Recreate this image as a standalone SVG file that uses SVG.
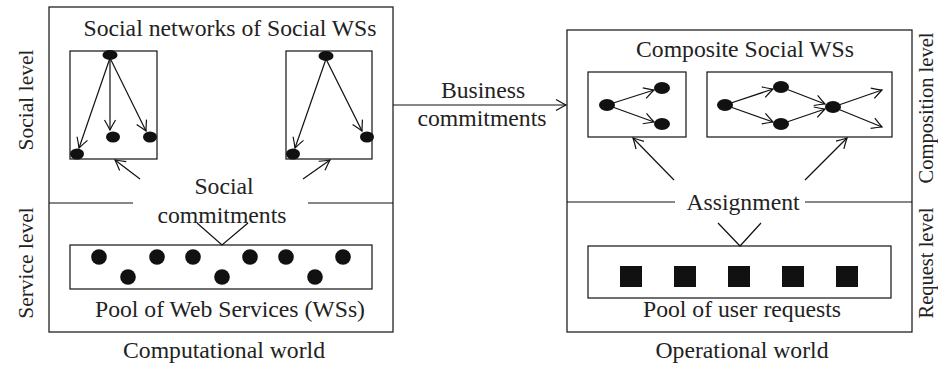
<svg xmlns="http://www.w3.org/2000/svg" width="938" height="367" viewBox="0 0 938 367">
  <defs>
    <style>
      .frame { fill: none; stroke: #222; stroke-width: 1.3; }
      .box { fill: none; stroke: #111; stroke-width: 1.2; }
      .line { fill: none; stroke: #111; stroke-width: 1.2; }
      .arrow { fill: none; stroke: #111; stroke-width: 1.2; marker-end: url(#vee); }
      .dot { fill: #111; }
      .lbl { font-family: "Liberation Serif", "Times New Roman", serif; font-size: 23.7px; fill: #222; text-anchor: middle; }
      .side { font-family: "Liberation Serif", "Times New Roman", serif; font-size: 21.5px; fill: #222; text-anchor: middle; }
      .side2 { font-family: "Liberation Serif", "Times New Roman", serif; font-size: 20.5px; fill: #222; text-anchor: middle; }
    </style>
    <marker id="vee" viewBox="-12 -7 14 14" markerWidth="14" markerHeight="14" refX="0" refY="0" orient="auto" markerUnits="userSpaceOnUse">
      <path d="M -10 -5.5 Q -4 -2 0 0 Q -4 2 -10 5.5" fill="none" stroke="#111" stroke-width="1.2"/>
    </marker>
  </defs>

  <!-- Computational world -->
  <g id="computational-world">
    <rect class="frame" x="49" y="7" width="344" height="325"/>
    <line class="line" x1="49" y1="203" x2="133" y2="203"/>
    <line class="line" x1="308" y1="203" x2="393" y2="203"/>
    <text class="lbl" x="230" y="36">Social networks of Social WSs</text>
    <text class="lbl" x="224" y="194">Social</text>
    <text class="lbl" x="222" y="223">commitments</text>
    <text class="lbl" x="230" y="317">Pool of Web Services (WSs)</text>
    <text class="lbl" x="224" y="358">Computational world</text>
    <text class="side" transform="translate(33,100) rotate(-90)">Social level</text>
    <text class="side" transform="translate(33,263) rotate(-90)">Service level</text>
  </g>

  <g id="social-network-1">
    <rect class="box" x="70" y="51" width="87" height="108"/>
    <ellipse class="dot" cx="110" cy="55" rx="7.5" ry="5"/>
    <ellipse class="dot" cx="113" cy="137" rx="7" ry="5.5"/>
    <ellipse class="dot" cx="150" cy="137" rx="7" ry="5.5"/>
    <ellipse class="dot" cx="77" cy="154" rx="7" ry="5.5"/>
  </g>

  <g id="social-network-2">
    <rect class="box" x="286" y="51" width="86" height="108"/>
    <ellipse class="dot" cx="326" cy="56" rx="7.5" ry="5"/>
    <ellipse class="dot" cx="367" cy="137" rx="7" ry="5.5"/>
    <ellipse class="dot" cx="293" cy="154" rx="7" ry="5.5"/>
  </g>

  <g id="ws-pool">
    <rect class="box" x="70" y="245" width="302" height="44"/>
    <circle class="dot" cx="99" cy="257" r="7.8"/>
    <circle class="dot" cx="157" cy="257" r="7.8"/>
    <circle class="dot" cx="193" cy="257" r="7.8"/>
    <circle class="dot" cx="250" cy="257" r="7.8"/>
    <circle class="dot" cx="286" cy="257" r="7.8"/>
    <circle class="dot" cx="343" cy="257" r="7.8"/>
    <circle class="dot" cx="128" cy="277" r="7.8"/>
    <circle class="dot" cx="222" cy="277" r="7.8"/>
    <circle class="dot" cx="315" cy="277" r="7.8"/>
  </g>

  <!-- Operational world -->
  <g id="operational-world">
    <rect class="frame" x="567" y="30" width="345" height="302"/>
    <line class="line" x1="567" y1="202" x2="675" y2="202"/>
    <line class="line" x1="805" y1="202" x2="912" y2="202"/>
    <text class="lbl" x="745" y="57">Composite Social WSs</text>
    <text class="lbl" x="743" y="210">Assignment</text>
    <text class="lbl" x="742" y="317">Pool of user requests</text>
    <text class="lbl" x="742" y="358">Operational world</text>
    <text class="side2" transform="translate(933,108) rotate(-90)">Composition level</text>
    <text class="side2" transform="translate(933,263) rotate(-90)">Request level</text>
  </g>

  <g id="composite-1">
    <rect class="box" x="588" y="72" width="98" height="65"/>
    <ellipse class="dot" cx="607" cy="105" rx="8" ry="6"/>
    <ellipse class="dot" cx="662" cy="88" rx="8" ry="6"/>
    <ellipse class="dot" cx="662" cy="124" rx="8" ry="6"/>
  </g>

  <g id="composite-2">
    <rect class="box" x="707" y="72" width="185" height="65"/>
    <ellipse class="dot" cx="725" cy="105" rx="8" ry="6"/>
    <ellipse class="dot" cx="781" cy="87" rx="8" ry="6"/>
    <ellipse class="dot" cx="781" cy="124" rx="8" ry="6"/>
    <ellipse class="dot" cx="833" cy="107" rx="8" ry="6"/>
  </g>

  <g id="request-pool">
    <rect class="box" x="588" y="246" width="303" height="52"/>
    <rect class="dot" x="620" y="266" width="22" height="21"/>
    <rect class="dot" x="674" y="266" width="22" height="21"/>
    <rect class="dot" x="728" y="266" width="22" height="21"/>
    <rect class="dot" x="782" y="266" width="22" height="21"/>
    <rect class="dot" x="836" y="266" width="22" height="21"/>
  </g>

  <g id="connectors">
    <!-- social network edges -->
    <line class="arrow" x1="110" y1="58" x2="79" y2="148"/>
    <line class="arrow" x1="110" y1="58" x2="110" y2="130"/>
    <line class="arrow" x1="110" y1="58" x2="146" y2="131"/>
    <line class="arrow" x1="326" y1="59" x2="295" y2="148"/>
    <line class="arrow" x1="326" y1="59" x2="362" y2="131"/>
    <!-- social commitments -->
    <line class="arrow" x1="140" y1="179" x2="115" y2="160"/>
    <line class="arrow" x1="303" y1="179" x2="330" y2="160"/>
    <polyline class="line" points="197,223 222,245 248,223"/>
    <!-- business commitments -->
    <line class="arrow" x1="393" y1="105" x2="566" y2="105"/>
    <text class="lbl" x="483" y="98">Business</text>
    <text class="lbl" x="482" y="126">commitments</text>
    <!-- composite edges -->
    <line class="arrow" x1="607" y1="105" x2="654" y2="90"/>
    <line class="arrow" x1="607" y1="105" x2="654" y2="122"/>
    <line class="arrow" x1="725" y1="105" x2="773" y2="89"/>
    <line class="arrow" x1="725" y1="105" x2="773" y2="122"/>
    <line class="arrow" x1="781" y1="87" x2="825" y2="104"/>
    <line class="arrow" x1="781" y1="124" x2="825" y2="109"/>
    <line class="arrow" x1="833" y1="107" x2="882" y2="90"/>
    <line class="arrow" x1="833" y1="107" x2="882" y2="127"/>
    <!-- assignment -->
    <line class="arrow" x1="674" y1="180" x2="633" y2="138"/>
    <line class="arrow" x1="805" y1="180" x2="847" y2="138"/>
    <polyline class="line" points="718,223 740,246 761,223"/>
  </g>
</svg>
